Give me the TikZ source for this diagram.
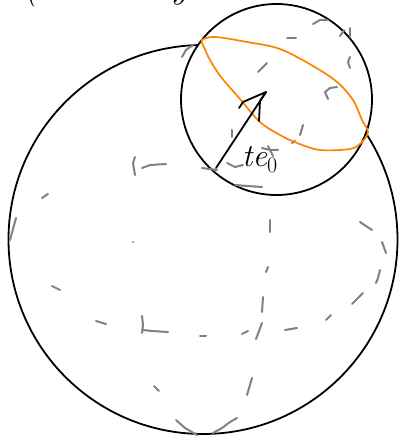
\documentclass[tikz,border=0pt]{standalone}
\usetikzlibrary{calc}
\definecolor{hintgray}{RGB}{128,128,128}
\definecolor{sketchorange}{RGB}{255,130,0}
\tikzset{
  outline/.style={draw=black, line width=1.8pt},
  hint/.style={draw=hintgray, line width=2pt, line cap=round, line join=round},
  rim/.style={draw=sketchorange, line width=1.7pt, line join=round},
  penline/.style={draw=black, line width=1.8pt, line cap=round, line join=round},
}
\begin{document}
\begin{tikzpicture}[x=1pt, y=-1pt]
\useasboundingbox (0,0) rectangle (399,438);
\clip (0,0) rectangle (399,438);
% clipped heading (only the bottoms of the letters are visible)
\node[anchor=base west, inner sep=0pt, font=\fontsize{38}{42}\selectfont\itshape] (head) at (24,-2) {(Base Layer};
% big sphere, hidden behind the small one
\draw[outline] (203,239.5) circle (194.5);
\fill[white] (276.5,99.5) circle (95.5);
\draw[outline] (276.5,99.5) circle (95.5);
% hidden gray strokes
\draw[hint] (135,157) -- (133,163) -- (135,175);
\draw[hint] (142,168) -- (150,165) -- (166,164);
\draw[hint] (42,198) -- (48,194);
\draw[hint] (16,218) -- (10,240);
\fill[hintgray] (133,242) circle (1);
\draw[hint] (52,286) -- (60,290);
\draw[hint] (96,321) -- (106,324);
\draw[hint] (142,316) -- (143,325) -- (142,333);
\draw[hint] (143,330) -- (152,331) -- (168,332);
\draw[hint] (154,386) -- (159,391);
\draw[hint] (176,420) -- (185,428) -- (197,435);
\draw[hint] (200,336) -- (206,336);
\draw[hint] (270,220) -- (270,232);
\draw[hint] (360,222) -- (372,230);
\draw[hint] (382,242) -- (386,253);
\draw[hint] (380,270) -- (378,278) -- (376,283);
\draw[hint] (268,267) -- (266,272);
\draw[hint] (263,297) -- (262,312);
\draw[hint] (363,293) -- (352,304);
\draw[hint] (331,315) -- (326,320);
\draw[hint] (262,323) -- (259,331) -- (256,339);
\draw[hint] (242,334) -- (248,331);
\draw[hint] (285,330) -- (297,328);
\draw[hint] (252,378) -- (247,395);
\draw[hint] (237,418) -- (230,422) -- (222,428) -- (213,433);
\draw[hint] (313,24) -- (320,20) -- (328,20);
\draw[hint] (287,38) -- (296,38);
\draw[hint] (340,36) -- (344,30);
\draw[hint] (350,28) -- (350,37);
\draw[hint] (350,57) -- (348,62) -- (350,68);
\draw[hint] (258,72) -- (267,63);
\draw[hint] (325,92) -- (330,88) -- (337,87);
\draw[hint] (325,92) -- (328,99);
\draw[hint] (182,57) -- (186,50) -- (193,45);
\draw[hint] (232,130) -- (232,137);
\draw[hint] (303,125) -- (300,135);
\draw[hint] (292,143) -- (295,141);
\draw[hint] (262,148) -- (270,150) -- (278,150);
\draw[hint] (268,146) -- (273,156);
\draw[hint] (202,168) -- (217,170);
\draw[hint] (227,163) -- (235,167) -- (243,165);
\draw[hint] (235,185) -- (247,186) -- (262,187);
% orange rim (intersection circle)
\draw[rim] plot[smooth cycle, tension=0.55] coordinates {
  (202,40) (215,37) (247,42) (280,49) (313,66) (337,82) (353,100) (362,120)
  (368,132) (361,143) (350,149) (320,150) (297,143) (280,135) (260,122)
  (240,99) (221,77) (210,60) (204,47)};
% radius arrow
\coordinate (tail) at (216,168);
\coordinate (tip) at (266,92);
\coordinate (barbL) at (239,108);
\coordinate (barbLm) at (243,102);
\coordinate (barbRm) at (260,101);
\coordinate (barbR) at (259,121);
\draw[penline] (tail) -- (tip);
\draw[penline] (barbL) -- (barbLm) -- (tip) -- (barbRm) -- (barbR);
\node[inner sep=0pt, anchor=base west] (lab) at (242,167) {{\fontsize{32}{34}\selectfont\itshape te}{\fontsize{22}{24}\selectfont\raisebox{-6pt}{0}}};
\end{tikzpicture}
\end{document}
